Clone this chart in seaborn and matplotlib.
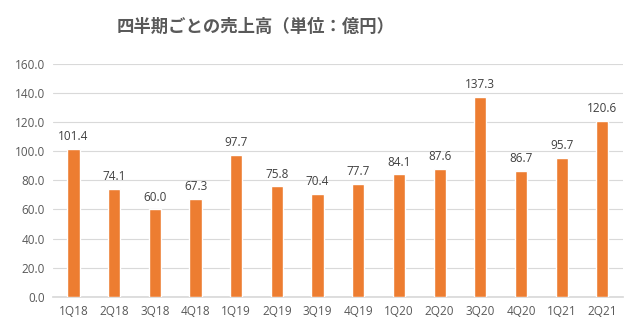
import matplotlib
matplotlib.use("Agg")
import matplotlib.pyplot as plt
import seaborn as sns
import pandas as pd

quarters = ["1Q18", "2Q18", "3Q18", "4Q18", "1Q19", "2Q19", "3Q19", "4Q19",
            "1Q20", "2Q20", "3Q20", "4Q20", "1Q21", "2Q21"]
sales = [101.4, 74.1, 60.0, 67.3, 97.7, 75.8, 70.4, 77.7,
         84.1, 87.6, 137.3, 86.7, 95.7, 120.6]
yticks = [0, 20, 40, 60, 80, 100, 120, 140, 160]

sns.set_theme(style="white")
plt.rcParams['font.family'] = ['Open Sans', 'Noto Sans CJK JP', 'DejaVu Sans']

df = pd.DataFrame({"q": quarters, "v": sales})
fig = plt.figure(figsize=(6.4, 3.3), dpi=100)
ax = fig.add_axes([0.083, 0.101, 0.890, 0.705])
sns.barplot(data=df, x="q", y="v", color="#ED7D31", width=0.3, saturation=1, ax=ax, zorder=3)
ax.set_ylim(0, 160)
ax.set_yticks(yticks)
ax.set_yticklabels([f"{t:.1f}" for t in yticks])
ax.yaxis.grid(True, color="#d9d9d9", linewidth=0.8, zorder=0)
ax.set_axisbelow(True)
for s in ["top", "right", "left"]:
    ax.spines[s].set_visible(False)
ax.spines["bottom"].set_color("#d9d9d9")
ax.set_xlabel("")
ax.set_ylabel("")
ax.tick_params(axis="both", length=0, labelsize=8.5, labelcolor="#595959", pad=6)
ax.set_xlim(-0.5, len(quarters) - 0.5)
for i, v in enumerate(sales):
    ax.text(i, v + 4, f"{v:.1f}", ha="center", va="bottom", fontsize=8.5, color="#404040")
fig.text(0.40, 0.918, "四半期ごとの売上高（単位：億円）", ha="center", va="center",
         fontsize=12.5, fontweight="bold", color="#595959", family=['Noto Sans CJK JP'])
fig.savefig("out.png", dpi=100, facecolor="white")
